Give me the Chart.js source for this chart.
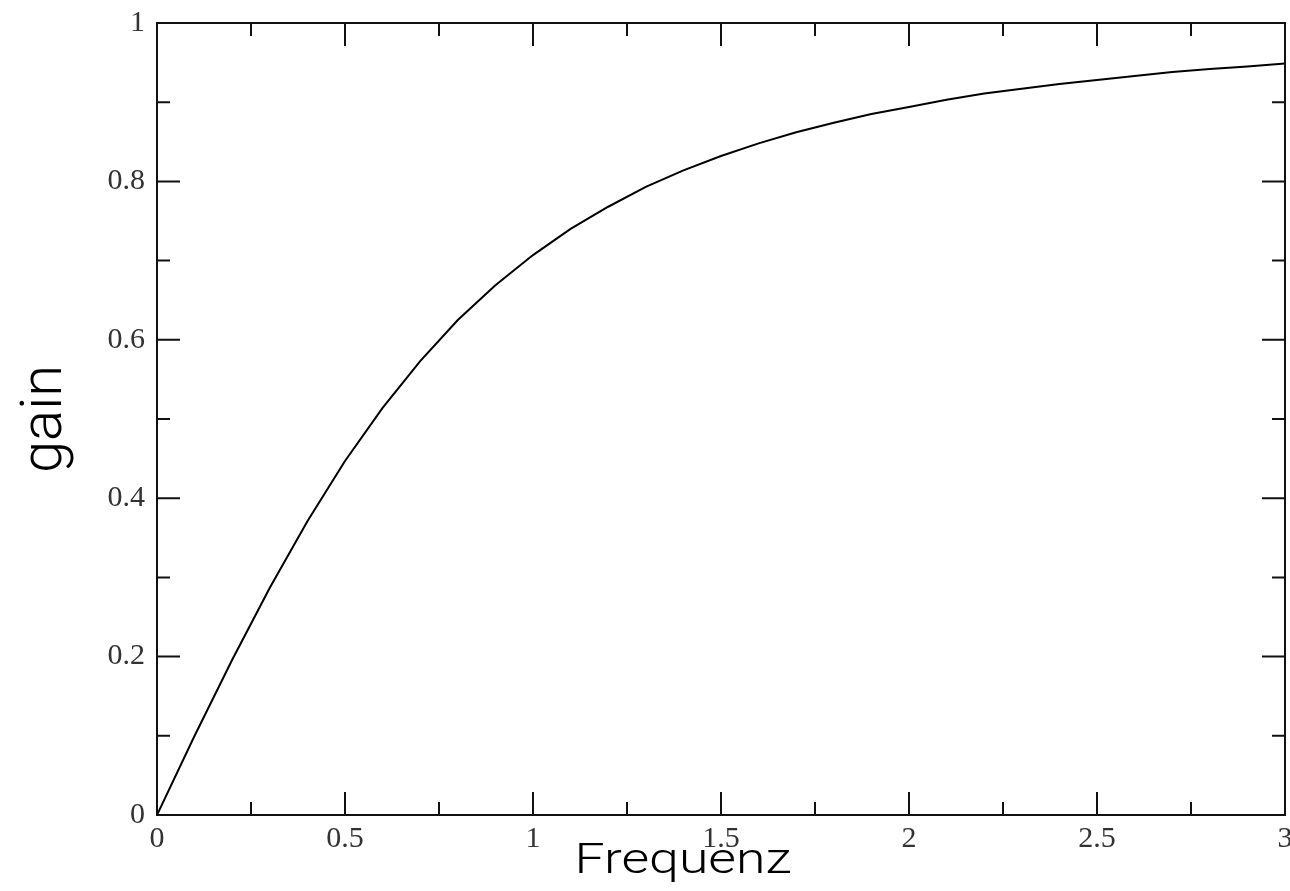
<!DOCTYPE html>
<html>
<head>
<meta charset="utf-8">
<style>
  html, body { margin: 0; padding: 0; background: #fff; }
  canvas { display: block; }
</style>
<script src="https://cdn.jsdelivr.net/npm/chart.js@4.4.1/dist/chart.umd.min.js"></script>
</head>
<body>
<canvas id="c" width="1290" height="891"></canvas>
<script>
// ---- data ----
const frequency = [0, 0.1, 0.2, 0.3, 0.4, 0.5, 0.6, 0.7, 0.8, 0.9, 1.0,
                   1.1, 1.2, 1.3, 1.4, 1.5, 1.6, 1.7, 1.8, 1.9, 2.0,
                   2.1, 2.2, 2.3, 2.4, 2.5, 2.6, 2.7, 2.8, 2.9, 3.0];
const gain = [0, 0.100, 0.196, 0.287, 0.371, 0.447, 0.514, 0.573, 0.625, 0.669, 0.707,
              0.740, 0.768, 0.793, 0.814, 0.832, 0.848, 0.862, 0.874, 0.885, 0.894,
              0.903, 0.911, 0.917, 0.923, 0.928, 0.933, 0.938, 0.942, 0.945, 0.949];

const xTickLabels = ['0', '0.5', '1', '1.5', '2', '2.5', '3'];
const yTickLabels = ['0', '0.2', '0.4', '0.6', '0.8', '1'];
const xMajorTicks = [0, 0.5, 1, 1.5, 2, 2.5, 3];
const xMinorTicks = [0.25, 0.75, 1.25, 1.75, 2.25, 2.75];
const yMajorTicks = [0, 0.2, 0.4, 0.6, 0.8, 1];
const yMinorTicks = [0.1, 0.3, 0.5, 0.7, 0.9];
const xTitle = 'Frequenz';
const yTitle = 'gain';

const points = frequency.map((f, i) => ({ x: f, y: gain[i] }));

const framePlugin = {
  id: 'frame',
  afterDraw(chart) {
    const ctx = chart.ctx;
    const a = chart.chartArea;
    const xs = chart.scales.x, ys = chart.scales.y;
    ctx.save();
    ctx.strokeStyle = '#111';
    ctx.lineWidth = 2;
    ctx.strokeRect(a.left, a.top, a.right - a.left, a.bottom - a.top);
    ctx.beginPath();
    const major = 23, minor = 13;
    xMajorTicks.forEach(v => {
      const px = xs.getPixelForValue(v);
      ctx.moveTo(px, a.bottom); ctx.lineTo(px, a.bottom - major);
      ctx.moveTo(px, a.top); ctx.lineTo(px, a.top + major);
    });
    xMinorTicks.forEach(v => {
      const px = xs.getPixelForValue(v);
      ctx.moveTo(px, a.bottom); ctx.lineTo(px, a.bottom - minor);
      ctx.moveTo(px, a.top); ctx.lineTo(px, a.top + minor);
    });
    yMajorTicks.forEach(v => {
      const py = ys.getPixelForValue(v);
      ctx.moveTo(a.left, py); ctx.lineTo(a.left + major, py);
      ctx.moveTo(a.right, py); ctx.lineTo(a.right - major, py);
    });
    yMinorTicks.forEach(v => {
      const py = ys.getPixelForValue(v);
      ctx.moveTo(a.left, py); ctx.lineTo(a.left + minor, py);
      ctx.moveTo(a.right, py); ctx.lineTo(a.right - minor, py);
    });
    ctx.stroke();

    // axis titles
    ctx.fillStyle = '#000';
    ctx.textAlign = 'center';
    ctx.textBaseline = 'alphabetic';
    ctx.font = '300 42px Roboto';
    const w = ctx.measureText(xTitle).width;
    const sx = 217 / w;
    ctx.save();
    ctx.translate(683, 873);
    ctx.scale(sx, 1);
    ctx.fillText(xTitle, 0, 0);
    ctx.restore();

    ctx.save();
    ctx.font = '300 58px Roboto';
    ctx.translate(61, (a.top + a.bottom) / 2);
    ctx.rotate(-Math.PI / 2);
    ctx.fillText(yTitle, 0, 0);
    ctx.restore();
    ctx.restore();
  }
};

new Chart(document.getElementById('c'), {
  type: 'line',
  data: {
    datasets: [{
      data: points,
      borderColor: '#000',
      borderWidth: 2,
      pointRadius: 0,
      tension: 0,
      fill: false
    }]
  },
  options: {
    responsive: false,
    animation: false,
    devicePixelRatio: 1,
    layout: { padding: { left: 0, right: 5, top: 23, bottom: 0 } },
    plugins: { legend: { display: false }, tooltip: { enabled: false } },
    scales: {
      x: {
        type: 'linear',
        min: 0, max: 3,
        grid: { display: false, drawTicks: false },
        border: { display: false },
        ticks: {
          stepSize: 0.5,
          padding: 6,
          color: '#333',
          font: { family: '"Liberation Serif", "DejaVu Serif", serif', size: 30 },
          maxRotation: 0,
          autoSkip: false,
          callback: (v, i) => xTickLabels[i]
        },
        afterFit(s) { s.height = 76; s.paddingLeft = 0; s.paddingRight = 0; }
      },
      y: {
        type: 'linear',
        min: 0, max: 1,
        grid: { display: false, drawTicks: false },
        border: { display: false },
        ticks: {
          stepSize: 0.2,
          padding: 12,
          color: '#333',
          font: { family: '"Liberation Serif", "DejaVu Serif", serif', size: 30 },
          autoSkip: false,
          callback: (v, i) => yTickLabels[i]
        },
        afterFit(s) { s.width = 157; s.paddingTop = 0; s.paddingBottom = 0; }
      }
    }
  },
  plugins: [framePlugin]
});
</script>
</body>
</html>
